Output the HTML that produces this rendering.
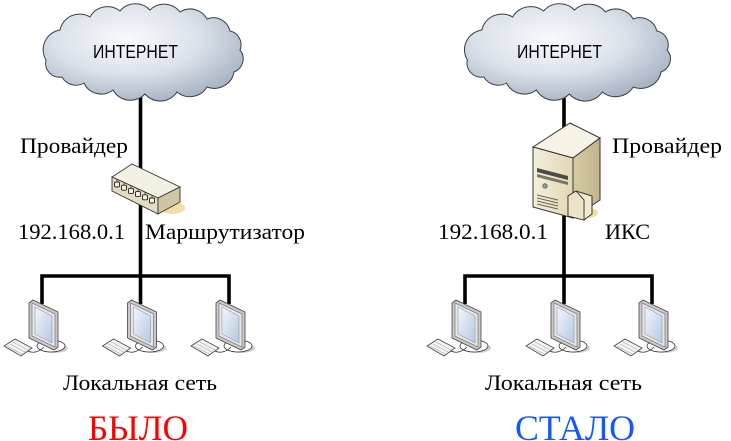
<!DOCTYPE html>
<html><head><meta charset="utf-8"><style>
html,body{margin:0;padding:0;background:#fff;}
svg{display:block;}
.t{font-family:"Liberation Serif","Noto Serif CJK SC",serif;font-size:22px;fill:#000;}
.c{font-family:"Liberation Sans","Noto Sans CJK SC",sans-serif;font-size:18px;fill:#000;}
</style></head><body>
<svg width="731" height="441" viewBox="0 0 731 441" xmlns="http://www.w3.org/2000/svg">
<defs>
<radialGradient id="cg" cx="0.42" cy="0.36" r="0.72">
<stop offset="0" stop-color="#f8fafc"/><stop offset="0.5" stop-color="#dce2ea"/><stop offset="1" stop-color="#9eabbc"/>
</radialGradient>
<linearGradient id="scr" x1="0" y1="0" x2="1" y2="1">
<stop offset="0" stop-color="#f2f6fc"/><stop offset="1" stop-color="#b5c8e0"/>
</linearGradient>
<linearGradient id="sf" x1="0" y1="0" x2="1" y2="0">
<stop offset="0" stop-color="#f5efda"/><stop offset="1" stop-color="#e2d7b5"/>
</linearGradient>
<linearGradient id="ss" x1="0" y1="0" x2="1" y2="0">
<stop offset="0" stop-color="#d6caa3"/><stop offset="1" stop-color="#c2b48c"/>
</linearGradient>
</defs>

<g stroke="#000" stroke-width="3.6" fill="none">
<line x1="140.5" y1="90" x2="140.5" y2="276"/>
<polyline points="42,304 42,276 229,276 229,304"/>
<line x1="140.5" y1="276" x2="140.5" y2="304"/>
<line x1="564" y1="90" x2="564" y2="276"/>
<polyline points="465,304 465,276 652,276 652,304"/>
<line x1="564" y1="276" x2="564" y2="304"/>
</g>

<path d="M46,60 A20,20 0 0 1 60,30 A20,20 0 0 1 90,17 A20,20 0 0 1 120,11 A20,20 0 0 1 150,10 A20,20 0 0 1 180,12 A19,19 0 0 1 207,19 A17,17 0 0 1 230,31 A14,14 0 0 1 240,50 A14,14 0 0 1 234,72 A20,20 0 0 1 207,87 A20,20 0 0 1 177,92 A20,20 0 0 1 145,94 A20,20 0 0 1 113,90 A19,19 0 0 1 84,83 A16,16 0 0 1 62,77 A14,14 0 0 1 46,60 Z" fill="url(#cg)" stroke="#3a3f47" stroke-width="1"/>
<g transform="translate(420,0) scale(1.03,1)">
<path d="M46,60 A20,20 0 0 1 60,30 A20,20 0 0 1 90,17 A20,20 0 0 1 120,11 A20,20 0 0 1 150,10 A20,20 0 0 1 180,12 A19,19 0 0 1 207,19 A17,17 0 0 1 230,31 A14,14 0 0 1 240,50 A14,14 0 0 1 234,72 A20,20 0 0 1 207,87 A20,20 0 0 1 177,92 A20,20 0 0 1 145,94 A20,20 0 0 1 113,90 A19,19 0 0 1 84,83 A16,16 0 0 1 62,77 A14,14 0 0 1 46,60 Z" fill="url(#cg)" stroke="#3a3f47" stroke-width="1"/>
</g>
<text class="c" x="93" y="58" textLength="85" lengthAdjust="spacingAndGlyphs">ИНТЕРНЕТ</text>
<text class="c" x="517" y="58" textLength="85" lengthAdjust="spacingAndGlyphs">ИНТЕРНЕТ</text>

<ellipse cx="172" cy="208" rx="13" ry="6" fill="#f1dea6"/>
<polygon points="112,177 132,164 180,187 158,198" fill="#f3f0e4" stroke="#333" stroke-width="0.9"/>
<polygon points="112,177 158,198 158,214 112,191" fill="#e4dcc2" stroke="#333" stroke-width="0.9"/>
<polygon points="158,198 180,187 180,202 158,214" fill="#d0c6a4" stroke="#333" stroke-width="0.9"/>
<g fill="#f4f1e6" stroke="#222" stroke-width="0.9">
<rect x="114.5" y="182" width="5" height="5" rx="1.2"/>
<rect x="121.5" y="185.2" width="5" height="5" rx="1.2"/>
<rect x="128.5" y="188.4" width="5" height="5" rx="1.2"/>
<rect x="135.5" y="191.6" width="5" height="5" rx="1.2"/>
<rect x="142.5" y="194.8" width="5" height="5" rx="1.2"/>
<rect x="149.5" y="198" width="5" height="5" rx="1.2"/>
</g>
<g stroke="#333" stroke-width="0.8">
<line x1="117" y1="179.5" x2="117" y2="182"/><line x1="124" y1="182.7" x2="124" y2="185.2"/>
<line x1="131" y1="185.9" x2="131" y2="188.4"/><line x1="138" y1="189.1" x2="138" y2="191.6"/>
<line x1="145" y1="192.3" x2="145" y2="194.8"/><line x1="152" y1="195.5" x2="152" y2="198"/>
</g>

<polygon points="533,147 570,123 600,138 573,158" fill="#f6f2e6" stroke="#333" stroke-width="1"/>
<polygon points="533,147 573,158 573,218 533,207" fill="url(#sf)" stroke="#333" stroke-width="1"/>
<polygon points="573,158 600,138 600,200 573,218" fill="url(#ss)" stroke="#333" stroke-width="1"/>
<polygon points="537,168 568,176 568,180 537,172" fill="#4a4a4a"/>
<polygon points="537,174 568,182 568,185 537,177" fill="#7a7568"/>
<circle cx="545" cy="186" r="2.2" fill="#7fa89a" stroke="#333" stroke-width="0.6"/>
<g stroke="#6a6558" stroke-width="0.9">
<line x1="537" y1="195" x2="558" y2="200"/><line x1="537" y1="198" x2="558" y2="203"/>
<line x1="537" y1="201" x2="558" y2="206"/><line x1="537" y1="204" x2="558" y2="209"/>
</g>
<ellipse cx="588" cy="213" rx="10" ry="5" fill="#f1dea6"/>
<polygon points="568,196 576,191 592,196 592,214 584,220 568,216" fill="#f1ead3" stroke="#333" stroke-width="1"/>
<polyline points="576,191 584,200 584,220" fill="none" stroke="#333" stroke-width="0.9"/>
<polygon points="568,196 576,191 584,200 584,220 568,216" fill="#ece3c8" stroke="#333" stroke-width="0.9"/>

<g>
<g transform="translate(42,300)">
<ellipse cx="12" cy="48" rx="14" ry="5" fill="#cfcfcf"/>
<ellipse cx="9" cy="46" rx="14" ry="6" fill="#fff" stroke="#333" stroke-width="0.8"/>
<path d="M-14,51 C-8,54 -2,51 2,47" fill="none" stroke="#333" stroke-width="0.8"/>
<polygon points="-13,3 -9,0 16,12 16,47 12,50 -13,38" fill="#c9c9c9" stroke="#444" stroke-width="0.8"/>
<polygon points="-10,3 13,14 13,47 -10,36" fill="#e6e6e6" stroke="#666" stroke-width="0.6"/>
<polygon points="-7,7 10,16 10,43 -7,34" fill="url(#scr)" stroke="#889" stroke-width="0.5"/>
<polygon points="-38,46 -27,39 -10,48 -21,56" fill="#f2f2f2" stroke="#444" stroke-width="0.8"/>
<g stroke="#999" stroke-width="0.5"><line x1="-35" y1="46" x2="-20" y2="54"/><line x1="-32" y1="44" x2="-17" y2="52"/><line x1="-29" y1="42" x2="-14" y2="50"/></g>
</g>
<g transform="translate(140.5,300)">
<ellipse cx="12" cy="48" rx="14" ry="5" fill="#cfcfcf"/>
<ellipse cx="9" cy="46" rx="14" ry="6" fill="#fff" stroke="#333" stroke-width="0.8"/>
<path d="M-14,51 C-8,54 -2,51 2,47" fill="none" stroke="#333" stroke-width="0.8"/>
<polygon points="-13,3 -9,0 16,12 16,47 12,50 -13,38" fill="#c9c9c9" stroke="#444" stroke-width="0.8"/>
<polygon points="-10,3 13,14 13,47 -10,36" fill="#e6e6e6" stroke="#666" stroke-width="0.6"/>
<polygon points="-7,7 10,16 10,43 -7,34" fill="url(#scr)" stroke="#889" stroke-width="0.5"/>
<polygon points="-38,46 -27,39 -10,48 -21,56" fill="#f2f2f2" stroke="#444" stroke-width="0.8"/>
<g stroke="#999" stroke-width="0.5"><line x1="-35" y1="46" x2="-20" y2="54"/><line x1="-32" y1="44" x2="-17" y2="52"/><line x1="-29" y1="42" x2="-14" y2="50"/></g>
</g>
<g transform="translate(229,300)">
<ellipse cx="12" cy="48" rx="14" ry="5" fill="#cfcfcf"/>
<ellipse cx="9" cy="46" rx="14" ry="6" fill="#fff" stroke="#333" stroke-width="0.8"/>
<path d="M-14,51 C-8,54 -2,51 2,47" fill="none" stroke="#333" stroke-width="0.8"/>
<polygon points="-13,3 -9,0 16,12 16,47 12,50 -13,38" fill="#c9c9c9" stroke="#444" stroke-width="0.8"/>
<polygon points="-10,3 13,14 13,47 -10,36" fill="#e6e6e6" stroke="#666" stroke-width="0.6"/>
<polygon points="-7,7 10,16 10,43 -7,34" fill="url(#scr)" stroke="#889" stroke-width="0.5"/>
<polygon points="-38,46 -27,39 -10,48 -21,56" fill="#f2f2f2" stroke="#444" stroke-width="0.8"/>
<g stroke="#999" stroke-width="0.5"><line x1="-35" y1="46" x2="-20" y2="54"/><line x1="-32" y1="44" x2="-17" y2="52"/><line x1="-29" y1="42" x2="-14" y2="50"/></g>
</g>
<g transform="translate(465,300)">
<ellipse cx="12" cy="48" rx="14" ry="5" fill="#cfcfcf"/>
<ellipse cx="9" cy="46" rx="14" ry="6" fill="#fff" stroke="#333" stroke-width="0.8"/>
<path d="M-14,51 C-8,54 -2,51 2,47" fill="none" stroke="#333" stroke-width="0.8"/>
<polygon points="-13,3 -9,0 16,12 16,47 12,50 -13,38" fill="#c9c9c9" stroke="#444" stroke-width="0.8"/>
<polygon points="-10,3 13,14 13,47 -10,36" fill="#e6e6e6" stroke="#666" stroke-width="0.6"/>
<polygon points="-7,7 10,16 10,43 -7,34" fill="url(#scr)" stroke="#889" stroke-width="0.5"/>
<polygon points="-38,46 -27,39 -10,48 -21,56" fill="#f2f2f2" stroke="#444" stroke-width="0.8"/>
<g stroke="#999" stroke-width="0.5"><line x1="-35" y1="46" x2="-20" y2="54"/><line x1="-32" y1="44" x2="-17" y2="52"/><line x1="-29" y1="42" x2="-14" y2="50"/></g>
</g>
<g transform="translate(564,300)">
<ellipse cx="12" cy="48" rx="14" ry="5" fill="#cfcfcf"/>
<ellipse cx="9" cy="46" rx="14" ry="6" fill="#fff" stroke="#333" stroke-width="0.8"/>
<path d="M-14,51 C-8,54 -2,51 2,47" fill="none" stroke="#333" stroke-width="0.8"/>
<polygon points="-13,3 -9,0 16,12 16,47 12,50 -13,38" fill="#c9c9c9" stroke="#444" stroke-width="0.8"/>
<polygon points="-10,3 13,14 13,47 -10,36" fill="#e6e6e6" stroke="#666" stroke-width="0.6"/>
<polygon points="-7,7 10,16 10,43 -7,34" fill="url(#scr)" stroke="#889" stroke-width="0.5"/>
<polygon points="-38,46 -27,39 -10,48 -21,56" fill="#f2f2f2" stroke="#444" stroke-width="0.8"/>
<g stroke="#999" stroke-width="0.5"><line x1="-35" y1="46" x2="-20" y2="54"/><line x1="-32" y1="44" x2="-17" y2="52"/><line x1="-29" y1="42" x2="-14" y2="50"/></g>
</g>
<g transform="translate(652,300)">
<ellipse cx="12" cy="48" rx="14" ry="5" fill="#cfcfcf"/>
<ellipse cx="9" cy="46" rx="14" ry="6" fill="#fff" stroke="#333" stroke-width="0.8"/>
<path d="M-14,51 C-8,54 -2,51 2,47" fill="none" stroke="#333" stroke-width="0.8"/>
<polygon points="-13,3 -9,0 16,12 16,47 12,50 -13,38" fill="#c9c9c9" stroke="#444" stroke-width="0.8"/>
<polygon points="-10,3 13,14 13,47 -10,36" fill="#e6e6e6" stroke="#666" stroke-width="0.6"/>
<polygon points="-7,7 10,16 10,43 -7,34" fill="url(#scr)" stroke="#889" stroke-width="0.5"/>
<polygon points="-38,46 -27,39 -10,48 -21,56" fill="#f2f2f2" stroke="#444" stroke-width="0.8"/>
<g stroke="#999" stroke-width="0.5"><line x1="-35" y1="46" x2="-20" y2="54"/><line x1="-32" y1="44" x2="-17" y2="52"/><line x1="-29" y1="42" x2="-14" y2="50"/></g>
</g>
</g>

<text class="t" x="20" y="153" textLength="108" lengthAdjust="spacingAndGlyphs">Провайдер</text>
<text class="t" x="18" y="239" textLength="107" lengthAdjust="spacingAndGlyphs">192.168.0.1</text>
<text class="t" x="145" y="239" textLength="160" lengthAdjust="spacingAndGlyphs">Маршрутизатор</text>
<text class="t" x="63" y="390" textLength="154" lengthAdjust="spacingAndGlyphs">Локальная сеть</text>
<text class="t" x="88" y="440" style="font-size:36px;fill:#ff0000" textLength="100" lengthAdjust="spacingAndGlyphs">БЫЛО</text>

<text class="t" x="612" y="153" textLength="110" lengthAdjust="spacingAndGlyphs">Провайдер</text>
<text class="t" x="438" y="239" textLength="110" lengthAdjust="spacingAndGlyphs">192.168.0.1</text>
<text class="t" x="605" y="239" textLength="45" lengthAdjust="spacingAndGlyphs">ИКС</text>
<text class="t" x="485" y="390" textLength="157" lengthAdjust="spacingAndGlyphs">Локальная сеть</text>
<text class="t" x="515" y="440" style="font-size:36px;fill:#1358ff" textLength="120" lengthAdjust="spacingAndGlyphs">СТАЛО</text>
</svg>
</body></html>
